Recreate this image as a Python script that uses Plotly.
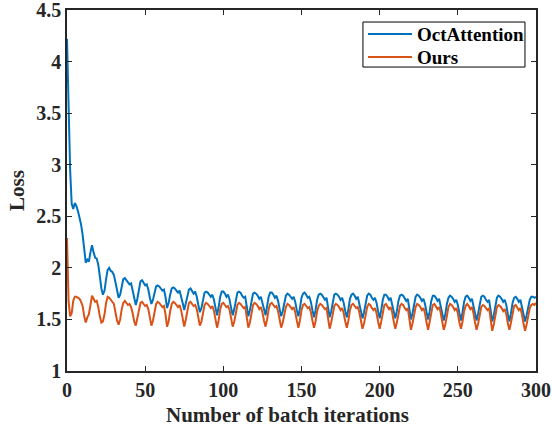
import plotly.graph_objects as go

series_names = ["OctAttention", "Ours"]
series_colors = ["#0072BD", "#D95319"]

octattention_loss = [
    4.22, 3.55, 2.95, 2.62, 2.57, 2.63, 2.60, 2.55, 2.49, 2.42,
    2.32, 2.20, 2.05, 2.08, 2.06, 2.15, 2.22, 2.15, 2.10, 2.09,
    2.03, 1.92, 1.80, 1.74, 1.78, 1.89, 1.98, 2.00, 1.97, 1.96,
    1.93, 1.86, 1.77, 1.71, 1.74, 1.82, 1.89, 1.90, 1.88, 1.86,
    1.84, 1.85, 1.78, 1.68, 1.64, 1.70, 1.80, 1.87, 1.88, 1.86,
    1.83, 1.84, 1.79, 1.71, 1.65, 1.69, 1.77, 1.82, 1.83, 1.82,
    1.80, 1.78, 1.79, 1.72, 1.61, 1.66, 1.74, 1.80, 1.81, 1.80,
    1.78, 1.76, 1.78, 1.73, 1.66, 1.59, 1.66, 1.75, 1.79, 1.80,
    1.78, 1.75, 1.77, 1.72, 1.64, 1.57, 1.61, 1.70, 1.76, 1.77,
    1.76, 1.74, 1.72, 1.74, 1.69, 1.61, 1.54, 1.62, 1.72, 1.77,
    1.77, 1.75, 1.72, 1.74, 1.69, 1.61, 1.54, 1.60, 1.70, 1.76,
    1.77, 1.76, 1.73, 1.71, 1.72, 1.63, 1.53, 1.59, 1.69, 1.75,
    1.76, 1.75, 1.73, 1.70, 1.72, 1.67, 1.60, 1.54, 1.62, 1.72,
    1.76, 1.76, 1.74, 1.71, 1.73, 1.68, 1.60, 1.53, 1.58, 1.67,
    1.73, 1.75, 1.74, 1.72, 1.70, 1.72, 1.67, 1.59, 1.53, 1.61,
    1.71, 1.75, 1.76, 1.74, 1.71, 1.72, 1.67, 1.59, 1.52, 1.59,
    1.69, 1.74, 1.75, 1.74, 1.71, 1.69, 1.71, 1.61, 1.52, 1.58,
    1.68, 1.74, 1.75, 1.74, 1.72, 1.69, 1.71, 1.66, 1.58, 1.52,
    1.60, 1.70, 1.74, 1.75, 1.73, 1.70, 1.72, 1.66, 1.58, 1.51,
    1.57, 1.67, 1.73, 1.75, 1.74, 1.71, 1.69, 1.71, 1.66, 1.58,
    1.51, 1.59, 1.69, 1.74, 1.74, 1.72, 1.69, 1.71, 1.65, 1.57,
    1.51, 1.58, 1.68, 1.73, 1.74, 1.73, 1.70, 1.68, 1.70, 1.60,
    1.50, 1.56, 1.66, 1.72, 1.74, 1.73, 1.71, 1.68, 1.70, 1.65,
    1.57, 1.50, 1.58, 1.68, 1.73, 1.73, 1.71, 1.68, 1.70, 1.64,
    1.56, 1.49, 1.55, 1.65, 1.71, 1.73, 1.72, 1.70, 1.67, 1.69,
    1.64, 1.56, 1.49, 1.57, 1.67, 1.72, 1.73, 1.71, 1.68, 1.70,
    1.63, 1.55, 1.49, 1.56, 1.66, 1.72, 1.73, 1.72, 1.69, 1.67,
    1.69, 1.59, 1.48, 1.54, 1.64, 1.71, 1.73, 1.72, 1.70, 1.67,
    1.69, 1.64, 1.55, 1.48, 1.56, 1.66, 1.71, 1.72, 1.70, 1.67,
    1.69, 1.62, 1.54, 1.48, 1.54, 1.63, 1.69, 1.72, 1.72, 1.71,
    1.72,
]

ours_loss = [
    2.29, 1.68, 1.53, 1.56, 1.68, 1.72, 1.72, 1.71, 1.70, 1.67,
    1.63, 1.53, 1.47, 1.52, 1.55, 1.64, 1.73, 1.70, 1.67, 1.68,
    1.62, 1.53, 1.47, 1.48, 1.55, 1.66, 1.72, 1.71, 1.69, 1.68,
    1.65, 1.57, 1.49, 1.45, 1.50, 1.60, 1.66, 1.68, 1.66, 1.64,
    1.65, 1.62, 1.56, 1.48, 1.44, 1.51, 1.61, 1.66, 1.67, 1.65,
    1.63, 1.64, 1.60, 1.52, 1.44, 1.49, 1.59, 1.65, 1.67, 1.66,
    1.64, 1.62, 1.63, 1.55, 1.43, 1.48, 1.58, 1.65, 1.67, 1.66,
    1.64, 1.62, 1.64, 1.59, 1.51, 1.43, 1.50, 1.60, 1.66, 1.67,
    1.65, 1.63, 1.64, 1.60, 1.52, 1.44, 1.48, 1.57, 1.64, 1.66,
    1.65, 1.63, 1.61, 1.63, 1.58, 1.50, 1.42, 1.49, 1.60, 1.65,
    1.66, 1.64, 1.62, 1.63, 1.59, 1.51, 1.43, 1.48, 1.58, 1.64,
    1.66, 1.65, 1.63, 1.61, 1.62, 1.53, 1.42, 1.47, 1.57, 1.64,
    1.66, 1.65, 1.63, 1.60, 1.62, 1.57, 1.49, 1.43, 1.50, 1.60,
    1.65, 1.66, 1.64, 1.62, 1.63, 1.58, 1.50, 1.42, 1.47, 1.56,
    1.62, 1.65, 1.64, 1.62, 1.60, 1.62, 1.57, 1.49, 1.42, 1.49,
    1.59, 1.64, 1.65, 1.63, 1.61, 1.62, 1.57, 1.49, 1.42, 1.48,
    1.58, 1.63, 1.65, 1.64, 1.62, 1.60, 1.61, 1.52, 1.41, 1.47,
    1.57, 1.63, 1.65, 1.64, 1.62, 1.59, 1.61, 1.56, 1.48, 1.42,
    1.49, 1.59, 1.64, 1.65, 1.63, 1.61, 1.62, 1.57, 1.49, 1.41,
    1.46, 1.56, 1.62, 1.65, 1.64, 1.61, 1.59, 1.61, 1.56, 1.48,
    1.41, 1.48, 1.58, 1.64, 1.65, 1.63, 1.60, 1.62, 1.57, 1.48,
    1.41, 1.47, 1.57, 1.63, 1.65, 1.64, 1.61, 1.59, 1.61, 1.51,
    1.40, 1.46, 1.56, 1.62, 1.65, 1.64, 1.62, 1.59, 1.61, 1.56,
    1.47, 1.40, 1.48, 1.58, 1.64, 1.65, 1.63, 1.60, 1.62, 1.57,
    1.48, 1.40, 1.45, 1.55, 1.62, 1.65, 1.64, 1.62, 1.59, 1.61,
    1.56, 1.47, 1.41, 1.48, 1.58, 1.63, 1.65, 1.63, 1.60, 1.62,
    1.56, 1.47, 1.40, 1.46, 1.56, 1.62, 1.64, 1.63, 1.61, 1.59,
    1.61, 1.50, 1.39, 1.45, 1.55, 1.62, 1.64, 1.63, 1.61, 1.58,
    1.60, 1.55, 1.46, 1.40, 1.47, 1.57, 1.63, 1.64, 1.62, 1.59,
    1.61, 1.55, 1.46, 1.39, 1.45, 1.55, 1.61, 1.64, 1.65, 1.64,
    1.66,
]

x_ticks = [0, 50, 100, 150, 200, 250, 300]
y_ticks = [1, 1.5, 2, 2.5, 3, 3.5, 4, 4.5]
y_tick_labels = ["1", "1.5", "2", "2.5", "3", "3.5", "4", "4.5"]

iterations_blue = list(range(len(octattention_loss)))
iterations_orange = list(range(len(ours_loss)))

FONT = "Liberation Serif"
AX = "#262626"

fig = go.Figure()
fig.add_trace(go.Scatter(x=iterations_blue, y=octattention_loss, mode="lines",
                         name=series_names[0], showlegend=False, hoverinfo="skip",
                         line=dict(color=series_colors[0], width=2)))
fig.add_trace(go.Scatter(x=iterations_orange, y=ours_loss, mode="lines",
                         name=series_names[1], showlegend=False, hoverinfo="skip",
                         line=dict(color=series_colors[1], width=2)))

axis_common = dict(showline=True, linecolor=AX, linewidth=1.5, mirror="ticks",
                   ticks="inside", ticklen=5, tickwidth=1.2, tickcolor=AX,
                   showgrid=False, zeroline=False, automargin=False,
                   ticklabeloverflow="allow",
                   tickfont=dict(family=FONT, size=20, color=AX))

fig.update_layout(
    width=552, height=428,
    margin=dict(l=67, r=16, t=10, b=57),
    paper_bgcolor="white", plot_bgcolor="white",
    font=dict(family=FONT, color=AX),
    xaxis=dict(range=[0, 300], tickvals=x_ticks,
               ticktext=[f"<b>{v}</b>" for v in x_ticks],
               **axis_common),
    yaxis=dict(range=[1, 4.5], tickvals=y_ticks,
               ticktext=[f"<b>{t}</b>" for t in y_tick_labels],
               title=dict(text="<b>Loss</b>",
                          font=dict(family=FONT, size=21, color=AX), standoff=6),
               **axis_common),
    showlegend=False,
)

fig.add_annotation(text="<b>Number of batch iterations</b>",
                   xref="paper", yref="paper", x=0.471, y=-0.121,
                   xanchor="center", yanchor="middle", showarrow=False,
                   font=dict(family=FONT, size=21, color=AX))

# Legend box (MATLAB style, top right inside the axes)
fig.add_shape(type="rect", xref="paper", yref="paper",
              x0=0.631, x1=0.9765, y0=0.842, y1=0.9667,
              line=dict(color="#000000", width=1), fillcolor="white", layer="above")
legend_rows_y = [0.9334, 0.8696]
for name, color, ry in zip(series_names, series_colors, legend_rows_y):
    fig.add_shape(type="line", xref="paper", yref="paper",
                  x0=0.6418, x1=0.7356, y0=ry, y1=ry,
                  line=dict(color=color, width=2), layer="above")
    fig.add_annotation(text=f"<b>{name}</b>", xref="paper", yref="paper",
                       x=0.742, y=ry, xanchor="left", yanchor="middle",
                       showarrow=False,
                       font=dict(family=FONT, size=19, color="#000000"))

fig.write_html("out.html", config={"displayModeBar": False},
               post_script="document.body.style.margin='0';")
